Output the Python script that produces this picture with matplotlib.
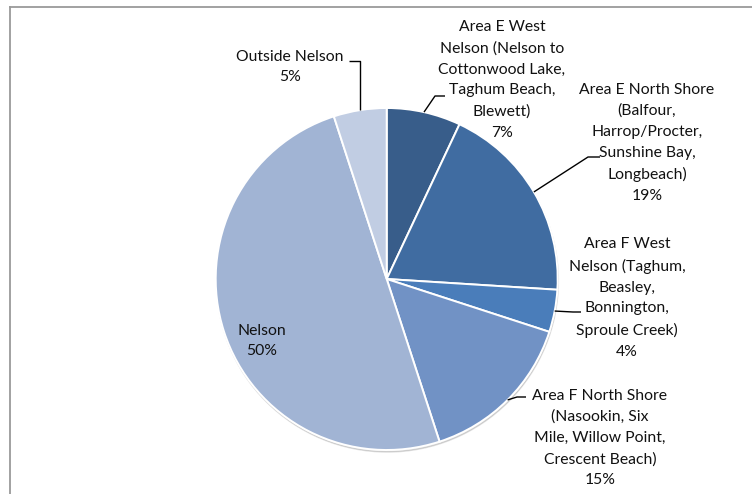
import numpy as np
import matplotlib
matplotlib.use("Agg")
import matplotlib.pyplot as plt
from matplotlib.lines import Line2D

# Share of respondents by area of residence
categories = [
    "Area E West\nNelson (Nelson to\nCottonwood Lake,\nTaghum Beach,\nBlewett)",
    "Area E North Shore\n(Balfour,\nHarrop/Procter,\nSunshine Bay,\nLongbeach)",
    "Area F West\nNelson (Taghum,\nBeasley,\nBonnington,\nSproule Creek)",
    "Area F North Shore\n(Nasookin, Six\nMile, Willow Point,\nCrescent Beach)",
    "Nelson",
    "Outside Nelson",
]
values = [7, 19, 4, 15, 50, 5]
colors = ["#385d8a", "#406ca1", "#4a7dba", "#7192c5", "#a1b4d4", "#c1cde3"]

W, H = 752, 494
CX, CY, R = 386.7, 279.0, 171.0

fig = plt.figure(figsize=(W / 100, H / 100), dpi=100)
ax = fig.add_axes([0, 0, 1, 1])


def px(x, y):
    """Pixel position (origin top-left) to data coordinates."""
    return (x - CX) / R, (CY - y) / R


# faint drop shadow under the pie
shadow = plt.Circle((0.004, -0.012), 1.0, color="#000000", alpha=0.12, zorder=0)
ax.add_patch(shadow)

wedges, _ = ax.pie(values, startangle=90, counterclock=False, colors=colors,
                   radius=1.0, center=(0, 0), frame=True,
                   wedgeprops=dict(edgecolor="white", linewidth=1.4))
ax.set_xlim(-CX / R, (W - CX) / R)
ax.set_ylim(-(H - CY) / R, CY / R)
ax.set_aspect("auto")
ax.axis("off")

font = dict(family=["Lato", "DejaVu Sans"], fontsize=11.3, color="#111111",
            linespacing=1.62, ha="center", va="center")

# label block centers (pixels) and leader elbows (pixels)
label_pos = [(502, 80), (647, 143), (627, 298), (600, 438), (262, 341), (290, 67)]
elbows = [
    [(435, 96), (445, 96)],
    [(588, 157), (600, 157)],
    [(573, 312), (581, 312)],
    [(517, 397), (526, 397)],
    None,
    [None, (349, 61)],
]

total = sum(values)
cum = 0
for i, (cat, v) in enumerate(zip(categories, values)):
    mid = 90 - (cum + v / 2) / total * 360
    cum += v
    ex, ey = np.cos(np.radians(mid)), np.sin(np.radians(mid))
    tx, ty = px(*label_pos[i])
    ax.text(tx, ty, f"{cat}\n{v}%", **font, zorder=5)
    if elbows[i] is not None:
        pts = [(ex, ey)]
        e1, e2 = elbows[i]
        if e1 is None:
            _, y2 = px(*e2)
            pts.append((ex, y2))
        else:
            pts.append(px(*e1))
        pts.append(px(*e2))
        xs, ys = zip(*pts)
        ax.plot(xs, ys, color="black", linewidth=1.0, zorder=4,
                solid_capstyle="butt")

# chart area border (left and top)
fig.add_artist(Line2D([9.5 / W, 9.5 / W], [0, 1 - 7.5 / H],
                      transform=fig.transFigure, color="#9a9a9a", linewidth=1.3))
fig.add_artist(Line2D([9.5 / W, 1], [1 - 7.5 / H, 1 - 7.5 / H],
                      transform=fig.transFigure, color="#9a9a9a", linewidth=1.3))

fig.savefig("out.png", dpi=100, facecolor="white")
